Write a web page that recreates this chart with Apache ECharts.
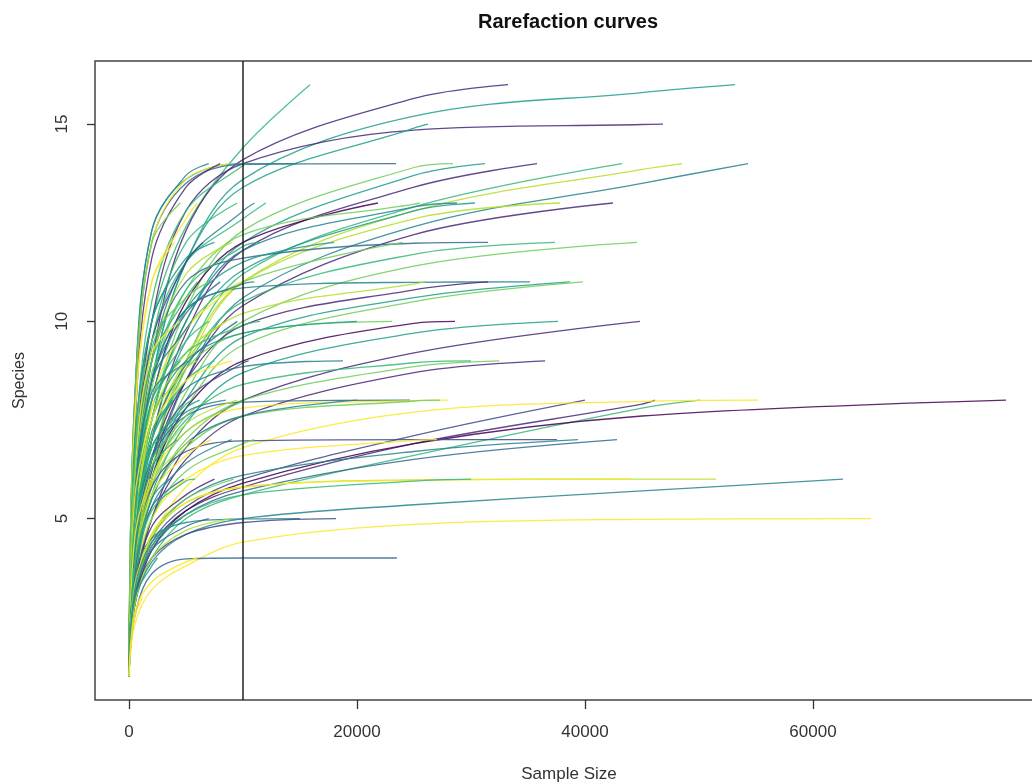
<!DOCTYPE html>
<html>
<head>
<meta charset="utf-8">
<title>Rarefaction curves</title>
<script src="https://cdn.jsdelivr.net/npm/echarts@6/dist/echarts.min.js"></script>
<style>
  html, body { margin: 0; padding: 0; background: #fff; }
  #main { width: 1032px; height: 784px; }
</style>
</head>
<body>
<div id="main"></div>
<script>
var anchorX = [500, 2000, 5000, 10000, 25000, 45000];

// one row per sample: [sample size N, species at each anchor below N ...]
// grouped by the species count reached at N
var s16 = [
  [15880, 6.8, 10.0, 12.4, 14.4],
  [33250, 5.5, 9.0, 12.3, 14.1, 15.65],
  [53160, 5.0, 8.5, 11.5, 13.6, 15.2, 15.8]
];
var s15 = [
  [46840, 6.0, 10.0, 12.8, 14.0, 14.85, 14.99],
  [26230, 5.0, 8.5, 11.5, 13.4, 14.9]
];
var s14 = [
  [14740, 8.0, 12.3, 13.6, 14.0],
  [23420, 7.6, 12.0, 13.5, 13.98],
  [28420, 4.5, 7.5, 10.3, 12.3, 13.9],
  [31230, 4.5, 7.5, 10.0, 12.0, 13.7],
  [35790, 4.0, 7.0, 9.7, 11.8, 13.4],
  [43250, 4.0, 6.5, 9.0, 11.2, 12.9],
  [48510, 3.8, 6.3, 8.8, 11.0, 12.8, 13.85],
  [54300, 3.8, 6.0, 8.5, 10.6, 12.4, 13.5],
  [8800, 7.8, 12.0, 13.6],
  [8000, 7.2, 11.6, 13.4],
  [7000, 8.0, 12.3, 13.7],
  [10500, 6.5, 10.5, 12.8, 13.95]
];
var s13 = [
  [21840, 5.0, 8.0, 10.5, 12.0],
  [28770, 4.5, 7.5, 10.0, 11.8, 12.9],
  [30350, 4.0, 7.0, 9.5, 11.3, 12.8],
  [37810, 4.0, 6.5, 9.0, 11.0, 12.6],
  [42460, 3.8, 6.2, 8.5, 10.4, 12.2],
  [12000, 6.0, 9.5, 11.5, 12.6],
  [25500, 5.0, 8.3, 10.8, 12.2, 12.97],
  [6000, 7.5, 11.0, 12.6],
  [9500, 6.0, 9.5, 12.0],
  [11000, 5.5, 9.0, 11.5, 12.8],
  [4500, 8.0, 12.0]
];
var s12 = [
  [31490, 6.0, 9.0, 11.0, 11.6, 11.98],
  [37370, 4.0, 6.5, 8.8, 10.5, 11.7],
  [44560, 3.5, 6.0, 8.2, 10.0, 11.4],
  [18000, 5.0, 8.0, 10.3, 11.5],
  [24000, 4.5, 7.5, 9.8, 11.0],
  [7500, 6.5, 10.0, 11.6],
  [9000, 5.5, 9.0, 11.2],
  [4000, 7.5, 11.0],
  [11500, 5.0, 8.5, 10.8, 11.9],
  [6500, 6.0, 9.5, 11.5]
];
var s11 = [
  [35180, 5.5, 8.5, 10.3, 10.85, 10.99],
  [38680, 3.8, 6.0, 8.0, 9.6, 10.6],
  [39820, 3.5, 5.8, 7.8, 9.4, 10.5],
  [31500, 4.0, 6.5, 8.5, 9.9, 10.8],
  [26000, 4.5, 7.0, 9.0, 10.2, 10.95],
  [3500, 7.0, 10.0],
  [6000, 6.0, 9.0, 10.6],
  [8000, 5.0, 8.5, 10.2],
  [9800, 4.5, 8.0, 9.8],
  [11000, 5.5, 8.5, 10.3, 10.95],
  [7000, 6.5, 9.5, 10.6]
];
var s10 = [
  [23070, 4.5, 7.0, 8.8, 9.7],
  [28600, 3.8, 6.0, 7.8, 9.0, 9.95],
  [37630, 3.5, 5.6, 7.4, 8.7, 9.7],
  [44820, 3.0, 5.0, 6.8, 8.0, 9.2],
  [20000, 5.0, 7.5, 9.0, 9.7],
  [3000, 6.5, 9.3],
  [5500, 5.5, 8.5, 9.8],
  [7000, 5.0, 8.0, 9.5],
  [8500, 4.5, 7.5, 9.2],
  [9500, 4.0, 7.0, 8.9],
  [11500, 5.0, 7.8, 9.2, 9.9],
  [4500, 6.0, 9.2]
];
var s9 = [
  [18770, 4.5, 7.0, 8.3, 8.85],
  [32500, 3.5, 5.5, 7.0, 8.0, 8.85],
  [36500, 3.2, 5.0, 6.5, 7.6, 8.7],
  [30000, 3.8, 6.0, 7.5, 8.4, 8.95],
  [2500, 6.0, 8.7],
  [4500, 5.0, 8.0],
  [6000, 4.5, 7.5, 8.8],
  [7500, 4.0, 7.0, 8.5],
  [9000, 4.5, 7.2, 8.5],
  [10500, 3.8, 6.5, 8.0, 8.95],
  [5200, 5.5, 8.2, 8.97]
];
var s8 = [
  [24650, 4.5, 6.5, 7.6, 7.95],
  [27980, 4.0, 6.0, 7.2, 7.8, 7.99],
  [27280, 3.5, 5.5, 6.8, 7.6, 7.98],
  [40000, 3.0, 4.4, 5.3, 6.0, 7.1],
  [46140, 3.0, 4.3, 5.2, 5.8, 6.9, 7.9],
  [50090, 2.8, 4.0, 5.0, 5.6, 6.6, 7.8],
  [55180, 3.0, 4.5, 5.8, 6.8, 7.7, 7.97],
  [76930, 2.8, 4.2, 5.2, 5.9, 6.9, 7.6],
  [20000, 3.5, 5.5, 6.9, 7.6],
  [2200, 5.5, 7.8],
  [3800, 4.5, 7.2],
  [5500, 4.0, 6.8, 7.9],
  [7000, 3.8, 6.3, 7.6],
  [8500, 4.2, 6.6, 7.7],
  [10200, 3.5, 5.8, 7.2, 7.98],
  [6200, 4.2, 6.8, 7.8],
  [9500, 3.5, 6.0, 7.4]
];
var s7 = [
  [37540, 4.0, 5.8, 6.7, 6.97, 7.0],
  [39390, 3.0, 4.5, 5.5, 6.1, 6.7],
  [42810, 2.8, 4.2, 5.1, 5.7, 6.5],
  [27000, 3.5, 5.0, 6.0, 6.6, 6.98],
  [2600, 5.0, 6.8],
  [4200, 4.0, 6.3],
  [5600, 3.8, 5.9, 6.9],
  [7200, 3.5, 5.6, 6.6],
  [9000, 3.3, 5.3, 6.4],
  [11000, 3.2, 5.0, 6.2, 6.9],
  [3300, 4.5, 6.5]
];
var s6 = [
  [51490, 3.0, 4.5, 5.4, 5.8, 5.98, 6.0],
  [44000, 3.2, 4.6, 5.4, 5.8, 5.97],
  [62630, 2.8, 3.9, 4.6, 5.0, 5.35, 5.7],
  [30000, 3.0, 4.3, 5.1, 5.6, 5.95],
  [1800, 4.5],
  [3500, 3.8, 5.5],
  [5800, 3.5, 5.2, 5.95],
  [7500, 3.2, 4.8, 5.6],
  [9200, 3.0, 4.6, 5.5],
  [4800, 3.6, 5.3]
];
var s5 = [
  [65090, 2.3, 3.2, 3.8, 4.4, 4.85, 4.98],
  [15000, 3.5, 4.5, 4.9, 4.99],
  [18160, 3.0, 4.0, 4.6, 4.9],
  [1500, 3.8],
  [3000, 3.3, 4.6],
  [4600, 3.2, 4.4],
  [7000, 3.0, 4.2, 4.8],
  [9000, 2.8, 4.0, 4.7]
];
var s4 = [
  [23500, 2.5, 3.6, 3.98, 4.0],
  [2500, 3.0, 3.8],
  [6000, 2.6, 3.4, 3.9]
];
var s3 = [
  [1200, 2.5]
];

var xTicks = [0, 20000, 40000, 60000];
var yTicks = [5, 10, 15];
var cutoff = 10000;

// viridis, 10 steps; each group has one digit per curve
var viridis = ['#440154', '#482878', '#3e4a89', '#31688e', '#26828e',
               '#1f9e89', '#35b779', '#6dcd59', '#b4de2c', '#fde725'];
var groups = [
  [16, s16, '615'],
  [15, s15, '15'],
  [14, s14, '537516849146'],
  [13, s13, '04581679647'],
  [12, s12, '3675758962'],
  [11, s11, '45718563947'],
  [10, s10, '705156468369'],
  [9, s9, '47167586924'],
  [8, s8, '39721690495674758'],
  [7, s7, '24396589476'],
  [6, s6, '8946956173'],
  [5, s5, '94269538'],
  [4, s4, '359'],
  [3, s3, '9']
];

function curvePoints(S, row) {
  var pts = [[1, 1]];
  for (var i = 1; i < row.length; i++) {
    pts.push([anchorX[i - 1], row[i]]);
  }
  pts.push([row[0], S]);
  return pts;
}

var series = [];
groups.forEach(function (g) {
  g[1].forEach(function (row, k) {
    series.push({
      type: 'line',
      data: curvePoints(g[0], row),
      smooth: 0.35,
      showSymbol: false,
      silent: true,
      lineStyle: { width: 1.3, color: viridis[+g[2].charAt(k)], opacity: 0.85 }
    });
  });
});

// vertical reference line at the rarefaction depth
series.push({
  type: 'line',
  data: [],
  silent: true,
  markLine: {
    symbol: 'none',
    silent: true,
    label: { show: false },
    lineStyle: { color: '#222', width: 1.5, type: 'solid' },
    data: [{ xAxis: cutoff }]
  }
});

var myChart = echarts.init(document.getElementById('main'));
var font = 'Liberation Sans, Arial, sans-serif';

var option = {
  animation: false,
  backgroundColor: '#fff',
  title: {
    text: 'Rarefaction curves',
    left: 563,
    top: 7,
    textAlign: 'center',
    textStyle: { fontFamily: font, fontWeight: 'bold', fontSize: 20, color: '#111' }
  },
  grid: {
    left: 95,
    top: 61,
    width: 948,
    height: 639,
    containLabel: false,
    outerBoundsMode: 'none',
    show: true,
    borderColor: '#444',
    borderWidth: 1.5,
    backgroundColor: 'transparent'
  },
  xAxis: {
    type: 'value',
    min: -2982,
    max: 80175,
    name: 'Sample Size',
    nameLocation: 'middle',
    nameGap: 66,
    nameTextStyle: { fontFamily: font, fontSize: 17, color: '#333' },
    axisLine: { show: false, onZero: false },
    splitLine: { show: false },
    axisTick: { show: true, length: 9, customValues: xTicks, lineStyle: { color: '#333', width: 1.3 } },
    axisLabel: {
      customValues: xTicks,
      formatter: function (v) { return String(v); },
      fontFamily: font, fontSize: 17, color: '#333', margin: 24
    }
  },
  yAxis: {
    type: 'value',
    min: 0.4,
    max: 16.6,
    name: 'Species',
    nameLocation: 'middle',
    nameGap: 67,
    nameTextStyle: { fontFamily: font, fontSize: 16, color: '#333' },
    axisLine: { show: false, onZero: false },
    splitLine: { show: false },
    axisTick: { show: true, length: 8, customValues: yTicks, lineStyle: { color: '#333', width: 1.3 } },
    axisLabel: { customValues: yTicks, rotate: 90, fontFamily: font, fontSize: 17, color: '#333', margin: 24 }
  },
  series: series
};

myChart.setOption(option);
</script>
</body>
</html>
